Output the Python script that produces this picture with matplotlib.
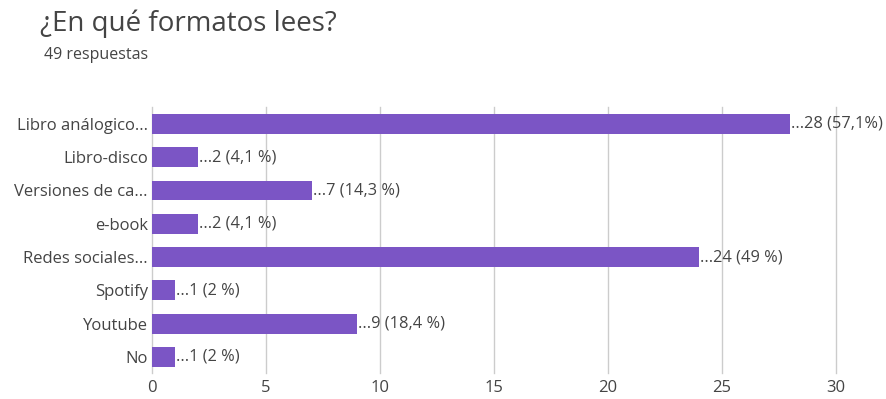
import matplotlib
matplotlib.use("Agg")
import matplotlib.pyplot as plt

plt.rcParams['font.family'] = ['Open Sans', 'DejaVu Sans']

# Data
categories = ["Libro análogico...", "Libro-disco", "Versiones de ca...", "e-book",
              "Redes sociales...", "Spotify", "Youtube", "No"]
counts = [28, 2, 7, 2, 24, 1, 9, 1]
value_labels = ["...28 (57,1%)", "...2 (4,1 %)", "...7 (14,3 %)", "...2 (4,1 %)",
                "...24 (49 %)", "...1 (2 %)", "...9 (18,4 %)", "...1 (2 %)"]
xticks = [0, 5, 10, 15, 20, 25, 30]

bar_color = "#7B55C5"
text_color = "#444444"
grid_color = "#CCCCCC"

fig = plt.figure(figsize=(8.87, 3.99), dpi=100)
ax = fig.add_axes([0.1714, 0.064, 0.771, 0.667])

ypos = list(range(len(categories)))
ax.barh(ypos, counts, height=0.6, color=bar_color, zorder=3)

for y, c, lab in zip(ypos, counts, value_labels):
    ax.text(c + 0.05, y, lab, va="center", ha="left", fontsize=11.8,
            color=text_color, clip_on=False, zorder=4)

ax.set_yticks(ypos)
ax.set_yticklabels(categories, fontsize=12, color=text_color)
ax.set_ylim(len(categories) - 0.5, -0.5)
ax.set_xlim(0, 30)
ax.set_xticks(xticks)
ax.set_xticklabels([str(t) for t in xticks], fontsize=12, color=text_color)
ax.xaxis.grid(True, color=grid_color, linewidth=1, zorder=0)
for gl in ax.get_xgridlines():
    gl.set_clip_on(False)
ax.tick_params(axis="y", length=0, pad=3)
ax.tick_params(axis="x", length=0, pad=5)
for s in ax.spines.values():
    s.set_visible(False)

fig.text(40 / 887, 1 - 24 / 399, "¿En qué formatos lees?", fontsize=20,
         color=text_color, va="center", ha="left")
fig.text(44 / 887, 1 - 55 / 399, "49 respuestas", fontsize=11.5,
         color=text_color, va="center", ha="left")

fig.savefig("out.png", dpi=100)
